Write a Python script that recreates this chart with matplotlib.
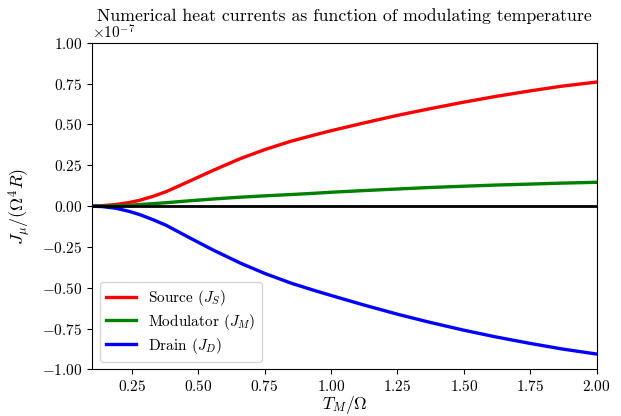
import matplotlib
matplotlib.use("Agg")
import matplotlib.pyplot as plt
import matplotlib.ticker as ticker

plt.rcParams['font.family'] = 'serif'
plt.rcParams['font.serif'] = ['cmr10']
plt.rcParams['mathtext.fontset'] = 'cm'
plt.rcParams['axes.formatter.use_mathtext'] = True

T_M = [0.10, 0.14, 0.19, 0.24, 0.28, 0.33, 0.38, 0.47, 0.56, 0.66, 0.75, 0.85, 0.94, 1.00,
       1.12, 1.25, 1.37, 1.50, 1.62, 1.75, 1.87, 2.00]

# values in units of 1e-7
J_source = [0.0, 0.003, 0.010, 0.022, 0.036, 0.060, 0.089, 0.155, 0.222, 0.292, 0.346, 0.398, 0.437, 0.462,
            0.508, 0.556, 0.596, 0.637, 0.672, 0.706, 0.735, 0.760]
J_mod = [0.0, 0.0005, 0.002, 0.005, 0.010, 0.015, 0.021, 0.033, 0.044, 0.055, 0.063, 0.071, 0.079, 0.085,
         0.095, 0.105, 0.114, 0.122, 0.129, 0.135, 0.141, 0.146]
J_drain = [0.0, -0.003, -0.013, -0.032, -0.052, -0.083, -0.118, -0.196, -0.272, -0.350, -0.412, -0.472, -0.518, -0.547,
           -0.604, -0.662, -0.711, -0.760, -0.801, -0.841, -0.875, -0.906]

scale = 1e-7

fig = plt.figure(figsize=(6.21, 4.16), dpi=100)
ax = fig.add_axes([0.148, 0.112, 0.813, 0.785])

ax.plot(T_M, [v * scale for v in J_source], color='red', lw=2.4, label=r'Source ($J_S$)')
ax.plot(T_M, [v * scale for v in J_mod], color='green', lw=2.4, label=r'Modulator ($J_M$)')
ax.plot(T_M, [v * scale for v in J_drain], color='blue', lw=2.4, label=r'Drain ($J_D$)')
ax.axhline(0, color='black', lw=2)

ax.set_xlim(0.1, 2.0)
ax.set_ylim(-1e-7, 1e-7)
ax.set_xticks([0.25, 0.5, 0.75, 1.0, 1.25, 1.5, 1.75, 2.0])
ax.set_yticks([-1e-7, -0.75e-7, -0.5e-7, -0.25e-7, 0, 0.25e-7, 0.5e-7, 0.75e-7, 1e-7])
ax.xaxis.set_major_formatter(ticker.FuncFormatter(lambda v, p: r'$%.2f$' % v))
ax.yaxis.set_major_formatter(ticker.FuncFormatter(lambda v, p: r'$%.2f$' % (v / scale)))
ax.text(0.0, 1.005, r'$\times10^{-7}$', transform=ax.transAxes, fontsize=11, va='bottom')

ax.set_xlabel(r'$T_M/\Omega$', fontsize=12.5, labelpad=0)
ax.set_ylabel(r'$J_\mu/(\Omega^4 R)$', fontsize=13, labelpad=6)
ax.set_title('Numerical heat currents as function of modulating temperature', fontsize=12.8, pad=16)
ax.tick_params(labelsize=11)
ax.legend(loc='lower left', fontsize=11, labelspacing=0.25)

fig.savefig('out.png', dpi=100)
